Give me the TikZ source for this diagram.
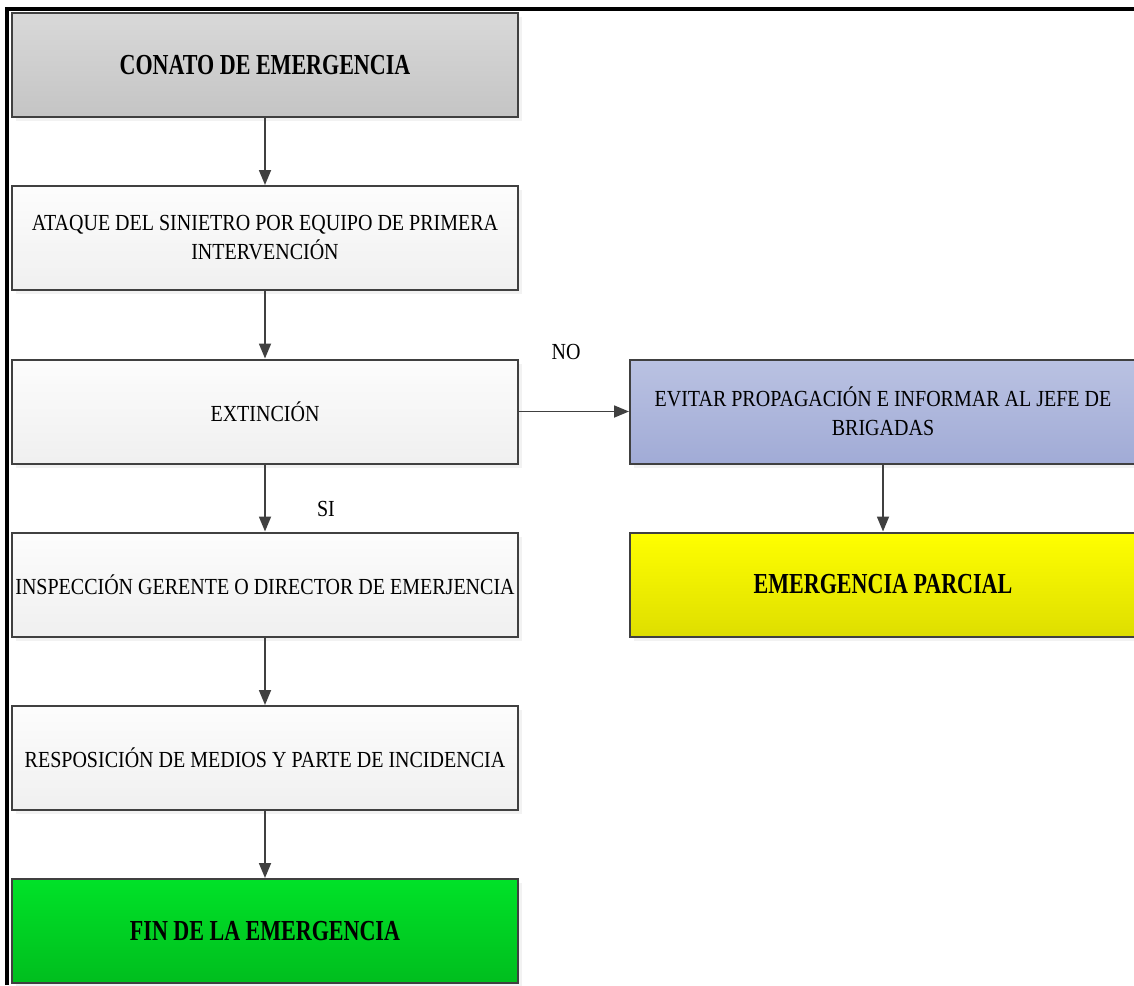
\documentclass[tikz,border=0pt]{standalone}
\usepackage{fontspec}
\setmainfont{Liberation Serif}
\newfontfamily\regcond[FakeStretch=0.87]{Liberation Serif}
\newfontfamily\boldcond[FakeStretch=0.76]{Liberation Serif Bold}
\usetikzlibrary{arrows.meta,shadows}
\definecolor{edge}{HTML}{404040}
\definecolor{frameblack}{HTML}{000000}
\tikzset{
  box/.style={rectangle, draw=edge, line width=2pt, minimum width=506pt,
    minimum height=104pt, inner sep=0pt, align=center, text=black,
    drop shadow={shadow xshift=4pt, shadow yshift=-4pt, fill=black!10}},
  plainbox/.style={box, top color=white!99!black, bottom color=black!6,
    font=\regcond\fontsize{23}{29}\selectfont},
  greybox/.style={box, top color=black!15, bottom color=black!23,
    font=\boldcond\fontsize{29}{34}\selectfont},
  bluebox/.style={box, top color={rgb,255:red,186;green,194;blue,226},
    bottom color={rgb,255:red,161;green,171;blue,214},
    font=\regcond\fontsize{23}{29}\selectfont},
  yellowbox/.style={box, top color={rgb,255:red,255;green,255;blue,0},
    bottom color={rgb,255:red,222;green,222;blue,0},
    font=\boldcond\fontsize{29}{34}\selectfont},
  greenbox/.style={box, top color={rgb,255:red,0;green,226;blue,40},
    bottom color={rgb,255:red,0;green,190;blue,30},
    font=\boldcond\fontsize{29}{34}\selectfont},
  flow/.style={draw=edge, line width=1.8pt,
    -{Triangle[length=15pt,width=12pt]}},
  tag/.style={font=\regcond\fontsize{23}{26}\selectfont, inner sep=0pt}
}
\begin{document}
\begin{tikzpicture}[x=1pt,y=-1pt]
  \useasboundingbox (0,0) rectangle (1134,985);
  \clip (0,0) rectangle (1134,985);
  % outer frame
  \draw[frameblack, line width=4pt] (7,985) -- (7,8.5) -- (1134,8.5);

  % left column
  \node[greybox]   (conato)  at (265,65)    {CONATO DE EMERGENCIA};
  \node[plainbox]  (ataque)  at (265,238)   {ATAQUE DEL SINIETRO POR EQUIPO DE PRIMERA\\INTERVENCIÓN};
  \node[plainbox]  (extin)   at (265,411.5) {EXTINCIÓN};
  \node[plainbox]  (insp)    at (265,584.5) {INSPECCIÓN GERENTE O DIRECTOR DE EMERJENCIA};
  \node[plainbox]  (repo)    at (265,758)   {RESPOSICIÓN DE MEDIOS Y PARTE DE INCIDENCIA};
  \node[greenbox]  (fin)     at (265,931)   {FIN DE LA EMERGENCIA};

  % right column
  \node[bluebox]   (evitar)  at (883,411.5) {EVITAR PROPAGACIÓN E INFORMAR AL JEFE DE\\BRIGADAS};
  \node[yellowbox] (parcial) at (883,584.5) {EMERGENCIA PARCIAL};

  % connectors
  \draw[flow] (conato) -- (ataque);
  \draw[flow] (ataque) -- (extin);
  \draw[flow] (extin)  -- (insp);
  \draw[flow] (insp)   -- (repo);
  \draw[flow] (repo)   -- (fin);
  \draw[flow] (extin)  -- (evitar);
  \draw[flow] (evitar.south -| parcial) -- (parcial);

  % branch labels
  \node[tag] (no) at (566,352) {NO};
  \node[tag] (si) at (326,509) {SI};
\end{tikzpicture}
\end{document}
